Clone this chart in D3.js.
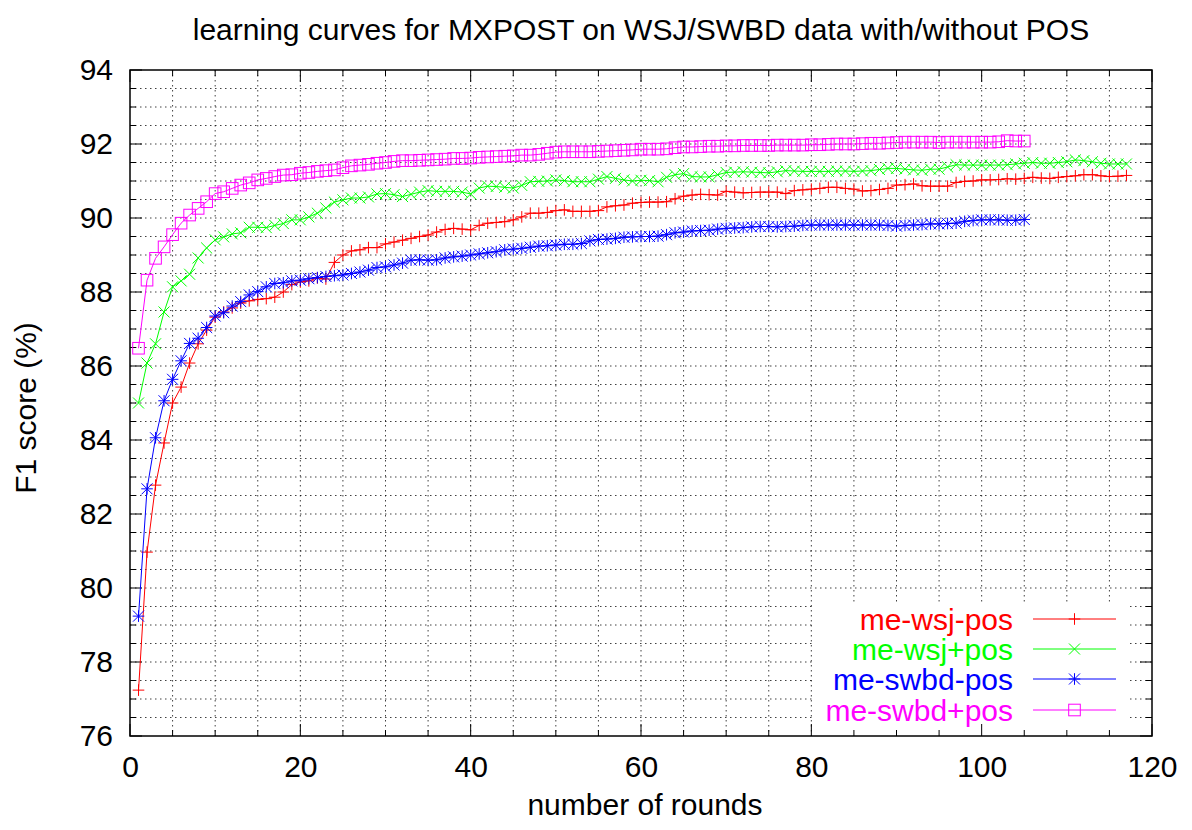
<!DOCTYPE html>
<html><head><meta charset="utf-8">
<script src="https://cdn.jsdelivr.net/npm/d3@7"></script>
<style>body{margin:0;background:#fff}svg{display:block}text{font-family:"Liberation Sans",Arial,sans-serif}</style>
</head><body>
<svg id="c" width="1192" height="830"></svg>
<script>
const titleText = "learning curves for MXPOST on WSJ/SWBD data with/without POS";
const xLabel = "number of rounds";
const yLabel = "F1 score (%)";
const xTicks = [0,20,40,60,80,100,120];
const yTicks = [76,78,80,82,84,86,88,90,92,94];
const seriesNames = ["me-wsj-pos","me-wsj+pos","me-swbd-pos","me-swbd+pos"];
const seriesColors = ["#ff0000","#00ff00","#0000ff","#ff00ff"];
const seriesMarkers = ["plus","cross","star","box"];

const wsjNoPos = [77.24,80.97,82.78,83.92,85.0,85.43,86.08,86.6,86.97,87.32,87.46,87.57,87.7,87.76,87.8,87.82,87.86,88.0,88.2,88.27,
88.3,88.38,88.35,88.8,89.0,89.11,89.14,89.2,89.2,89.3,89.35,89.4,89.45,89.5,89.54,89.62,89.69,89.72,89.7,89.68,
89.8,89.86,89.88,89.9,89.95,90.03,90.13,90.13,90.15,90.2,90.22,90.18,90.18,90.18,90.2,90.3,90.33,90.35,90.4,90.42,
90.43,90.43,90.44,90.52,90.59,90.62,90.64,90.63,90.62,90.72,90.7,90.68,90.69,90.7,90.7,90.7,90.66,90.74,90.76,90.78,
90.8,90.83,90.83,90.8,90.78,90.73,90.74,90.77,90.8,90.89,90.9,90.92,90.87,90.86,90.86,90.86,90.96,90.99,91.0,91.03,
91.03,91.04,91.06,91.05,91.07,91.1,91.08,91.07,91.1,91.12,91.14,91.17,91.17,91.14,91.12,91.13,91.15];
const wsjPos = [85.0,86.08,86.6,87.46,88.14,88.3,88.48,88.92,89.19,89.41,89.49,89.57,89.6,89.75,89.75,89.74,89.8,89.85,89.95,89.95,
90.03,90.13,90.27,90.43,90.49,90.54,90.54,90.57,90.65,90.66,90.63,90.58,90.64,90.7,90.74,90.72,90.72,90.72,90.7,90.65,
90.81,90.86,90.85,90.83,90.81,90.88,90.98,90.99,91.0,91.03,91.01,90.98,90.98,90.98,91.05,91.12,91.07,91.03,91.0,91.02,
91.01,90.98,91.1,91.17,91.2,91.12,91.11,91.11,91.17,91.23,91.24,91.25,91.24,91.23,91.22,91.25,91.28,91.27,91.26,91.26,
91.26,91.26,91.27,91.27,91.26,91.27,91.28,91.31,91.34,91.34,91.32,91.3,91.29,91.32,91.32,91.38,91.44,91.43,91.43,91.43,
91.43,91.43,91.44,91.46,91.48,91.5,91.48,91.48,91.5,91.52,91.57,91.55,91.52,91.48,91.46,91.46,91.46];
const swbdNoPos = [79.24,82.68,84.06,85.06,85.64,86.14,86.61,86.75,87.04,87.35,87.44,87.62,87.74,87.92,88.01,88.14,88.23,88.25,88.3,88.32,
88.36,88.39,88.42,88.44,88.46,88.5,88.54,88.59,88.66,88.68,88.73,88.78,88.86,88.87,88.86,88.87,88.92,88.95,88.97,89.0,
89.03,89.06,89.09,89.14,89.16,89.18,89.21,89.24,89.25,89.27,89.29,89.29,89.31,89.38,89.42,89.43,89.45,89.48,89.49,89.5,
89.5,89.51,89.55,89.6,89.62,89.65,89.66,89.67,89.7,89.72,89.73,89.74,89.76,89.77,89.77,89.76,89.77,89.78,89.8,89.81,
89.81,89.81,89.81,89.81,89.81,89.81,89.81,89.81,89.8,89.78,89.8,89.81,89.82,89.84,89.84,89.85,89.86,89.91,89.93,89.95,
89.95,89.95,89.94,89.94,89.96];
const swbdPos = [86.48,88.32,88.91,89.22,89.55,89.86,90.08,90.26,90.44,90.66,90.71,90.8,90.89,90.95,91.03,91.07,91.12,91.16,91.17,91.21,
91.23,91.26,91.28,91.3,91.36,91.41,91.43,91.45,91.48,91.5,91.53,91.55,91.55,91.56,91.57,91.58,91.59,91.61,91.61,91.62,
91.64,91.65,91.66,91.67,91.68,91.7,91.7,91.72,91.75,91.78,91.79,91.79,91.79,91.79,91.8,91.81,91.82,91.83,91.84,91.86,
91.86,91.86,91.87,91.9,91.92,91.92,91.93,91.94,91.94,91.95,91.95,91.96,91.96,91.96,91.96,91.97,91.97,91.97,91.97,91.98,
91.98,91.99,92.0,92.0,92.0,92.01,92.02,92.02,92.03,92.04,92.05,92.05,92.05,92.05,92.04,92.05,92.05,92.05,92.05,92.05,
92.05,92.06,92.09,92.08,92.08];
const seriesValues = [wsjNoPos, wsjPos, swbdNoPos, swbdPos];

const L=130, R=1152, T=70, B=736;
const svg = d3.select("#c");
const x = d3.scaleLinear().domain([0,120]).range([L,R]);
const y = d3.scaleLinear().domain([76,94]).range([B,T]);

// grid
const g = svg.append("g");
const xMinor = d3.range(0,121,5), yMinor = d3.range(76,94.01,0.5);
g.selectAll(".gx").data(xMinor.filter(v=>v>0&&v<120)).enter().append("line")
 .attr("x1",d=>x(d)).attr("x2",d=>x(d)).attr("y1",T).attr("y2",B)
 .attr("stroke","#000").attr("stroke-opacity",0.75).attr("stroke-dasharray","1.5,3.5");
g.selectAll(".gy").data(yMinor.filter(v=>v>76&&v<94)).enter().append("line")
 .attr("y1",d=>y(d)).attr("y2",d=>y(d)).attr("x1",L).attr("x2",R)
 .attr("stroke","#000").attr("stroke-opacity",0.75).attr("stroke-dasharray","1.5,3.5");

// legend background
const legX = 1013, legLine0 = 1033, legLine1 = 1116, legRows=[619,649,679,710];
svg.append("rect").attr("x",812).attr("y",602).attr("width",1127-812).attr("height",B-602).attr("fill","#fff");

// ticks (inside, mirrored)
const tk = svg.append("g").attr("stroke","#000").attr("stroke-width",1);
xMinor.forEach(v=>{const len = (v%20===0)?12:6;
  tk.append("line").attr("x1",x(v)).attr("x2",x(v)).attr("y1",B).attr("y2",B-len);
  tk.append("line").attr("x1",x(v)).attr("x2",x(v)).attr("y1",T).attr("y2",T+len);});
yMinor.forEach(v=>{const len = (Math.abs(v%2)<1e-6)?12:6;
  tk.append("line").attr("y1",y(v)).attr("y2",y(v)).attr("x1",L).attr("x2",L+len);
  tk.append("line").attr("y1",y(v)).attr("y2",y(v)).attr("x1",R).attr("x2",R-len);});

// axes labels via d3 axis (text only)
const xAxis = d3.axisBottom(x).tickValues(xTicks).tickSize(0).tickPadding(20);
const ax = svg.append("g").attr("transform",`translate(0,${B})`).call(xAxis);
ax.select(".domain").remove();
ax.selectAll("text").attr("font-size",30).attr("font-family","Liberation Sans, Arial, sans-serif").attr("fill","#000");
const yAxis = d3.axisLeft(y).tickValues(yTicks).tickSize(0).tickPadding(17);
const ay = svg.append("g").attr("transform",`translate(${L},0)`).call(yAxis);
ay.select(".domain").remove();
ay.selectAll("text").attr("font-size",30).attr("font-family","Liberation Sans, Arial, sans-serif").attr("fill","#000");

// marker drawing
function marker(sel, type, cx, cy, color){
  const s=5.8;
  if(type==="plus"||type==="star"){
    sel.append("path").attr("d",`M${cx-s},${cy}H${cx+s}M${cx},${cy-s}V${cy+s}`).attr("stroke",color).attr("fill","none");
  }
  if(type==="cross"||type==="star"){
    const c=s*0.95;
    sel.append("path").attr("d",`M${cx-c},${cy-c}L${cx+c},${cy+c}M${cx-c},${cy+c}L${cx+c},${cy-c}`).attr("stroke",color).attr("fill","none");
  }
  if(type==="box"){
    sel.append("rect").attr("x",cx-s).attr("y",cy-s).attr("width",2*s).attr("height",2*s).attr("stroke",color).attr("fill","none");
  }
}

const line = d3.line().x((d,i)=>x(i+1)).y(d=>y(d));
const clipG = svg.append("g");
seriesValues.forEach((vals,k)=>{
  const sg = clipG.append("g");
  sg.append("path").datum(vals).attr("d",line).attr("fill","none").attr("stroke",seriesColors[k]).attr("stroke-width",1);
  vals.forEach((v,i)=>marker(sg, seriesMarkers[k], x(i+1), y(v), seriesColors[k]));
});

// legend
seriesNames.forEach((n,k)=>{
  svg.append("text").attr("x",legX).attr("y",legRows[k]).attr("dy","0.35em").attr("text-anchor","end")
    .attr("font-size",30).attr("fill",seriesColors[k]).text(n);
  svg.append("line").attr("x1",legLine0).attr("x2",legLine1).attr("y1",legRows[k]).attr("y2",legRows[k])
    .attr("stroke",seriesColors[k]).attr("stroke-width",1);
  marker(svg, seriesMarkers[k], (legLine0+legLine1)/2, legRows[k], seriesColors[k]);
});

// frame
svg.append("rect").attr("x",L).attr("y",T).attr("width",R-L).attr("height",B-T).attr("fill","none").attr("stroke","#000").attr("stroke-width",1.5);

// titles
svg.append("text").attr("x",641).attr("y",40).attr("text-anchor","middle").attr("font-size",30).text(titleText);
svg.append("text").attr("x",645).attr("y",815).attr("text-anchor","middle").attr("font-size",30).text(xLabel);
svg.append("text").attr("transform",`translate(36,408) rotate(-90)`).attr("text-anchor","middle").attr("font-size",30).text(yLabel);
</script>
</body></html>
